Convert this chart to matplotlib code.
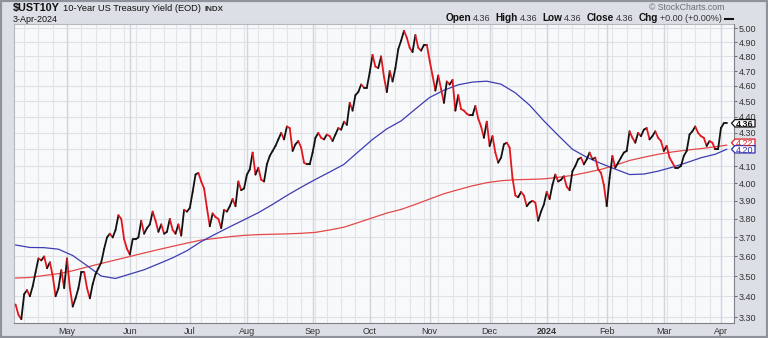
import numpy as np
import pandas as pd
import matplotlib
matplotlib.use("Agg")
import matplotlib.pyplot as plt
from matplotlib.collections import LineCollection
from matplotlib.patches import Polygon, Rectangle
from matplotlib.lines import Line2D
from matplotlib.ticker import FixedLocator, FixedFormatter, NullLocator
from matplotlib.transforms import IdentityTransform

plt.rcParams['font.family'] = ['Liberation Sans', 'DejaVu Sans']

# ---------------------------------------------------------------- data
symbol = "$UST10Y"
name = "10-Year US Treasury Yield (EOD)"
exchange = "INDX"

first_day, last_day = "2023-04-04", "2024-04-03"
market_holidays = ["2023-04-07", "2023-05-29", "2023-06-19", "2023-07-04",
                   "2023-09-04", "2023-10-09", "2023-11-23", "2023-12-25",
                   "2024-01-01", "2024-01-15", "2024-02-19", "2024-03-29"]

close_2023_04 = [3.36, 3.31, 3.29, 3.41, 3.43, 3.40, 3.45, 3.52, 3.59, 3.58,
                 3.60, 3.54, 3.57, 3.50, 3.40, 3.44, 3.53, 3.44]
close_2023_05 = [3.59, 3.44, 3.35, 3.39, 3.44, 3.52, 3.52, 3.44, 3.39, 3.46,
                 3.51, 3.54, 3.57, 3.64, 3.70, 3.72, 3.70, 3.74, 3.82, 3.80,
                 3.69, 3.64]
close_2023_06 = [3.61, 3.69, 3.69, 3.70, 3.79, 3.72, 3.75, 3.77, 3.84, 3.79,
                 3.73, 3.77, 3.72, 3.73, 3.80, 3.74, 3.72, 3.77, 3.71, 3.85,
                 3.84]
close_2023_07 = [3.86, 3.95, 4.05, 4.06, 4.01, 3.97, 3.86, 3.76, 3.83, 3.81,
                 3.80, 3.75, 3.85, 3.84, 3.87, 3.91, 3.87, 4.01, 3.96, 3.97]
close_2023_08 = [4.05, 4.08, 4.18, 4.05, 4.09, 4.02, 4.01, 4.11, 4.16, 4.19,
                 4.22, 4.26, 4.30, 4.26, 4.34, 4.33, 4.19, 4.23, 4.25, 4.21,
                 4.12, 4.11, 4.11]
close_2023_09 = [4.18, 4.27, 4.30, 4.27, 4.26, 4.29, 4.28, 4.25, 4.29, 4.33,
                 4.32, 4.37, 4.35, 4.49, 4.44, 4.54, 4.56, 4.61, 4.59, 4.59]
close_2023_10 = [4.69, 4.81, 4.73, 4.72, 4.80, 4.66, 4.56, 4.70, 4.63, 4.72,
                 4.85, 4.91, 4.98, 4.93, 4.86, 4.83, 4.95, 4.86, 4.84, 4.88,
                 4.88]
close_2023_11 = [4.77, 4.67, 4.57, 4.67, 4.58, 4.49, 4.63, 4.61, 4.64, 4.44,
                 4.54, 4.45, 4.44, 4.42, 4.41, 4.41, 4.47, 4.39, 4.34, 4.27,
                 4.37]
close_2023_12 = [4.22, 4.28, 4.18, 4.12, 4.15, 4.23, 4.24, 4.21, 4.03, 3.93,
                 3.92, 3.95, 3.93, 3.87, 3.89, 3.90, 3.89, 3.79, 3.84, 3.88]
close_2024_01 = [3.95, 3.91, 3.99, 4.05, 4.01, 4.02, 4.04, 3.98, 3.96, 4.07,
                 4.10, 4.14, 4.15, 4.11, 4.14, 4.18, 4.14, 4.15, 4.08, 4.06,
                 3.99]
close_2024_02 = [3.87, 4.03, 4.16, 4.09, 4.12, 4.15, 4.18, 4.19, 4.31, 4.27,
                 4.24, 4.30, 4.28, 4.32, 4.33, 4.26, 4.28, 4.31, 4.27, 4.25]
close_2024_03 = [4.19, 4.22, 4.15, 4.12, 4.09, 4.09, 4.10, 4.16, 4.19, 4.29,
                 4.31, 4.34, 4.30, 4.28, 4.27, 4.22, 4.25, 4.24, 4.20, 4.20]
close_2024_04 = [4.33, 4.36, 4.36]

# moving averages, one reading every 5th session plus the last session
ma_step = 5
sma50 = [3.660, 3.647, 3.646, 3.638, 3.605, 3.553, 3.500, 3.488, 3.510, 3.532,
         3.562, 3.593, 3.630, 3.678, 3.718, 3.757, 3.795, 3.834, 3.880, 3.930,
         3.977, 4.022, 4.065, 4.110, 4.185, 4.260, 4.325, 4.375, 4.450, 4.525,
         4.572, 4.608, 4.626, 4.632, 4.612, 4.555, 4.475, 4.375, 4.285, 4.200,
         4.152, 4.115, 4.082, 4.050, 4.053, 4.070, 4.093, 4.120, 4.149, 4.170,
         4.200]
sma200 = [3.490, 3.493, 3.503, 3.512, 3.527, 3.546, 3.564, 3.582, 3.600, 3.618,
          3.636, 3.653, 3.670, 3.686, 3.695, 3.704, 3.711, 3.715, 3.717, 3.719,
          3.722, 3.727, 3.740, 3.755, 3.780, 3.806, 3.832, 3.852, 3.880, 3.910,
          3.940, 3.963, 3.985, 4.003, 4.014, 4.020, 4.022, 4.025, 4.034, 4.045,
          4.062, 4.080, 4.105, 4.133, 4.152, 4.170, 4.184, 4.195, 4.204, 4.215,
          4.225]

y_ticks = [3.30, 3.40, 3.50, 3.60, 3.70, 3.80, 3.90, 4.00, 4.10, 4.20,
           4.30, 4.40, 4.50, 4.60, 4.70, 4.80, 4.90, 5.00]

# ---------------------------------------------------------------- series
closes = np.array(close_2023_04 + close_2023_05 + close_2023_06 + close_2023_07
                  + close_2023_08 + close_2023_09 + close_2023_10 + close_2023_11
                  + close_2023_12 + close_2024_01 + close_2024_02 + close_2024_03
                  + close_2024_04)
dates = pd.bdate_range(first_day, last_day)
dates = dates[~dates.isin(pd.to_datetime(market_holidays))]
assert len(dates) == len(closes)
n = len(closes)
xs = np.arange(n)

ma_x = list(range(0, n, ma_step))
if ma_x[-1] != n - 1:
    ma_x.append(n - 1)
assert len(ma_x) == len(sma50) == len(sma200)

# ---------------------------------------------------------------- figure
W, H = 768, 338
fig = plt.figure(figsize=(W / 100, H / 100), dpi=100)
fig.patch.set_facecolor('#dcdfe5')


def fx(px):
    return px / W


def fy(py):
    return 1 - py / H


ax = fig.add_axes([fx(13.5), fy(323), fx(733.5) - fx(13.5), fy(24.3) - fy(323)])
ax.set_facecolor('#f8f9fb')
ax.set_yscale('log')
ax.set_ylim(3.2717, 5.0267)
ax.set_xlim(-0.74, 251.4)

# grid: horizontal at each price level, vertical at week and month starts
for v in y_ticks:
    ax.axhline(v, color='#dfe1e6', lw=0.8, zorder=0.5)
pos = pd.Series(xs, index=dates)
iso = dates.isocalendar()
week_starts = pos.groupby([iso.year.values, iso.week.values]).first().values
month_starts = pos.groupby(dates.to_period('M')).first()
month_starts = month_starts.iloc[1:]
for w in week_starts:
    if w > 0:
        ax.axvline(w, color='#e2e4e8', lw=0.8, zorder=0.5)
for m in month_starts.values:
    ax.axvline(m, color='#d2d5db', lw=1.0, zorder=0.6)

# moving averages
ax.plot(ma_x, sma200, color='#e44848', lw=0.9, zorder=2)
ax.plot(ma_x, sma50, color='#3d3db2', lw=0.9, zorder=2)

# close line: black on up days, red on down days
pts = np.column_stack([xs, closes])
segs = np.stack([pts[:-1], pts[1:]], axis=1)
cols = ['#111111' if b >= a else '#e3161d' for a, b in zip(closes[:-1], closes[1:])]
ax.add_collection(LineCollection(segs, colors=cols, linewidths=1.3,
                                 capstyle='round', joinstyle='round', zorder=3))

# ---------------------------------------------------------------- value tags
def to_disp(v):
    return ax.transData.transform((n - 1, v))[1]


y_close = to_disp(closes[-1])
y_50 = to_disp(sma50[-1])
y_200 = max(to_disp(sma200[-1]), y_50 + 6.5)
tag_half = 3.7

# price levels hidden behind a tag get no tick label
tag_centres = [y_close, y_50, y_200]
tick_text = []
for v in y_ticks:
    yd = to_disp(v)
    covered = any(abs(yd - c) < tag_half + 1.5 for c in tag_centres)
    tick_text.append("" if covered else f"{v:.2f}")

# axes styling
ax.yaxis.tick_right()
ax.yaxis.set_major_locator(FixedLocator(y_ticks))
ax.yaxis.set_major_formatter(FixedFormatter(tick_text))
ax.yaxis.set_minor_locator(NullLocator())
ax.tick_params(axis='y', length=2.5, width=0.6, color='#555555', pad=1,
               labelsize=6.5, labelcolor='#333333')

month_labels = []
for per in month_starts.index:
    month_labels.append(str(per.year) if per.month == 1 else per.strftime('%b'))
ax.xaxis.set_major_locator(FixedLocator(month_starts.values))
ax.xaxis.set_major_formatter(FixedFormatter(month_labels))
ax.tick_params(axis='x', length=0, pad=2.6, labelsize=6.5, labelcolor='#333333')
for lbl in ax.get_xticklabels():
    if lbl.get_text().isdigit():
        lbl.set_fontweight('bold')

for side in ('left', 'top'):
    ax.spines[side].set_color('#b4b8bf')
    ax.spines[side].set_linewidth(0.8)
for side in ('bottom', 'right'):
    ax.spines[side].set_color('#7c818a')
    ax.spines[side].set_linewidth(0.8)
    ax.spines[side].set_linestyle((0, (1, 1)))


def value_tag(y_disp, text, edge, color, weight):
    x0, x1 = 731.5, 755.0
    poly = Polygon([(x0, y_disp), (x0 + 3.5, y_disp + tag_half),
                    (x1, y_disp + tag_half), (x1, y_disp - tag_half),
                    (x0 + 3.5, y_disp - tag_half)],
                   closed=True, transform=IdentityTransform(), facecolor='white',
                   edgecolor=edge, lw=0.9, zorder=5)
    fig.add_artist(poly)
    fig.text((x0 + 3.5 + x1) / 2 / W, y_disp / H, text, fontsize=6.5,
             fontweight=weight, color=color, ha='center', va='center_baseline',
             zorder=6)


value_tag(y_200, f"{sma200[-1]:.2f}", '#e02020', '#e02020', 'normal')
value_tag(y_50, f"{sma50[-1]:.2f}", '#3030b0', '#3030b0', 'normal')
value_tag(y_close, f"{closes[-1]:.2f}", '#111111', '#111111', 'bold')

# ---------------------------------------------------------------- header
renderer = fig.canvas.get_renderer()


def run_text(parts, x_px, y_px, align='left'):
    """Place a row of differently styled strings next to each other."""
    artists = []
    for txt, weight, size, color, gap in parts:
        t = fig.text(fx(x_px), fy(y_px), txt, fontsize=size, fontweight=weight,
                     color=color, va='baseline', ha='left', parse_math=False)
        artists.append((t, gap))
    widths = [t.get_window_extent(renderer).width for t, _ in artists]
    total = sum(widths) + sum(g for _, g in artists[:-1])
    x = x_px - total if align == 'right' else x_px
    for (t, gap), w in zip(artists, widths):
        t.set_x(fx(x))
        x += w + gap


run_text([(symbol, 'bold', 7.8, '#111111', 3),
          (name, 'normal', 6.7, '#111111', 4),
          (exchange, 'bold', 5.8, '#333333', 0)], 13, 11)

d = dates[-1]
fig.text(fx(13), fy(21.5), f"{d.day}-{d:%b-%Y}", fontsize=6.5, color='#111111',
         va='baseline', ha='left')

fig.text(fx(724), fy(10), "\u00a9 StockCharts.com", fontsize=6.3, color='#6a6e75',
         va='baseline', ha='right')

last, prev = closes[-1], closes[-2]
chg = last - prev
pct = chg / prev * 100
run_text([("Open", 'bold', 7.2, '#111111', 2),
          (f"{last:.2f}", 'normal', 6.5, '#333333', 5),
          ("High", 'bold', 7.2, '#111111', 2),
          (f"{last:.2f}", 'normal', 6.5, '#333333', 5),
          ("Low", 'bold', 7.2, '#111111', 2),
          (f"{last:.2f}", 'normal', 6.5, '#333333', 5),
          ("Close", 'bold', 7.2, '#111111', 2),
          (f"{last:.2f}", 'normal', 6.5, '#333333', 5),
          ("Chg", 'bold', 7.2, '#111111', 2),
          (f"{chg:+.2f} ({pct:+.2f}%)", 'normal', 6.5, '#333333', 0)],
         722, 21.2, align='right')
fig.add_artist(Line2D([fx(725), fx(733)], [fy(18.5), fy(18.5)],
                      transform=fig.transFigure, color='#111111', lw=1.5))

# outer frame
fig.add_artist(Rectangle((0, 0), 1, 1, transform=fig.transFigure, fill=False,
                         edgecolor='#8e939b', lw=3))

fig.savefig("out.png", dpi=100, facecolor=fig.get_facecolor())
